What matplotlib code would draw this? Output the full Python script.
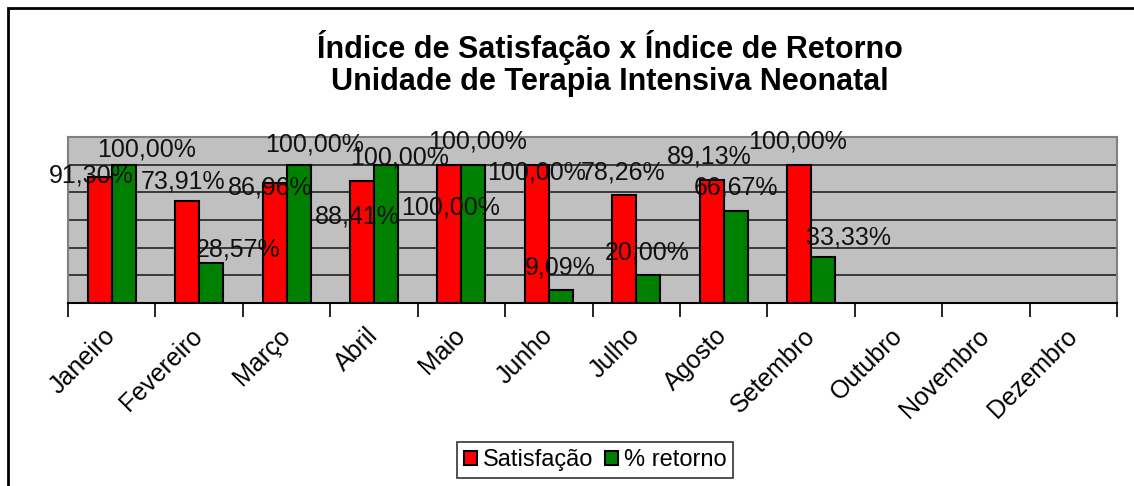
import numpy as np
import matplotlib.pyplot as plt
from matplotlib.patches import Rectangle

plt.rcParams['font.family'] = ['Liberation Sans', 'DejaVu Sans']

meses = ['Janeiro', 'Fevereiro', 'Março', 'Abril', 'Maio', 'Junho', 'Julho',
         'Agosto', 'Setembro', 'Outubro', 'Novembro', 'Dezembro']
satisfacao = [91.30, 73.91, 86.96, 88.41, 100.00, 100.00, 78.26, 89.13, 100.00,
              np.nan, np.nan, np.nan]
retorno = [100.00, 28.57, 100.00, 100.00, 100.00, 9.09, 20.00, 66.67, 33.33,
           np.nan, np.nan, np.nan]

# label offsets (pixels) relative to bar top, as placed in the original sheet
off_sat = [(-8, 1), (-4, 19), (-4, -5), (-5, -36), (1, -43), (0, -8), (-1, 22), (-2, 23), (-1, 23)]
off_ret = [(23, 15), (27, 14), (16, 20), (14, 7), (4, 23), (-1, 23), (-1, 23), (0, 23), (25, 19)]

fig = plt.figure(figsize=(11.34, 4.86), dpi=100)
ax = fig.add_axes([68/1134, 1-303/486, (1117-68)/1134, (303-137)/486])

x = np.arange(len(meses))
w = 0.275
b1 = ax.bar(x - w/2, satisfacao, w, color='#FF0000', edgecolor='black', linewidth=1.5,
            label='Satisfação', zorder=3)
b2 = ax.bar(x + w/2, retorno, w, color='#008000', edgecolor='black', linewidth=1.5,
            label='% retorno', zorder=3)

def fmt(v):
    return f'{v:.2f}%'.replace('.', ',')

for i, (v, o) in enumerate(zip(satisfacao, off_sat)):
    ax.annotate(fmt(v), (x[i] - w/2, v), xytext=o, textcoords='offset pixels',
                ha='center', va='center', fontsize=18, color='#111111', zorder=4)
for i, (v, o) in enumerate(zip(retorno, off_ret)):
    ax.annotate(fmt(v), (x[i] + w/2, v), xytext=o, textcoords='offset pixels',
                ha='center', va='center', fontsize=18, color='#111111', zorder=4)

ax.set_xlim(-0.5, len(meses) - 0.5)
ax.set_ylim(0, 120)
ax.set_facecolor('#C0C0C0')
ax.set_yticks(np.arange(0, 121, 20))
ax.yaxis.grid(True, color='#222222', linewidth=1.2, zorder=0)
ax.tick_params(axis='y', length=0, labelleft=False)
ax.set_axisbelow(True)

ax.set_xticks(x)
ax.set_xticklabels(meses, rotation=45, ha='right', va='center', rotation_mode='anchor',
                   fontsize=18)
ax.tick_params(axis='x', which='major', length=0, pad=21)
ax.set_xticks(np.arange(-0.5, len(meses), 1), minor=True)
ax.tick_params(axis='x', which='minor', length=10, width=1.2, direction='out', color='black')

for s in ['left', 'right', 'top']:
    ax.spines[s].set_color('#808080')
    ax.spines[s].set_linewidth(1.5)
ax.spines['bottom'].set_color('black')
ax.spines['bottom'].set_linewidth(1.5)

fig.text(0.538, 1-47/486, 'Índice de Satisfação x Índice de Retorno', ha='center', va='center',
         fontsize=22, fontweight='bold')
fig.text(0.538, 1-82/486, 'Unidade de Terapia Intensiva Neonatal', ha='center', va='center',
         fontsize=22, fontweight='bold')

leg = fig.legend(handles=[b1, b2], loc='center', bbox_to_anchor=(595/1134, 1-460/486),
                 ncol=2, fontsize=17, frameon=True, fancybox=False, edgecolor='black',
                 handlelength=0.55, handleheight=0.55, handletextpad=0.25, columnspacing=0.5,
                 borderpad=0.3, borderaxespad=0)
leg.get_frame().set_linewidth(1.2)

fig.patches.append(Rectangle((8/1134, -0.1), 1.2, 1-8/486 + 0.1, transform=fig.transFigure,
                             fill=False, edgecolor='black', linewidth=2))

fig.savefig('out.png', dpi=100)
